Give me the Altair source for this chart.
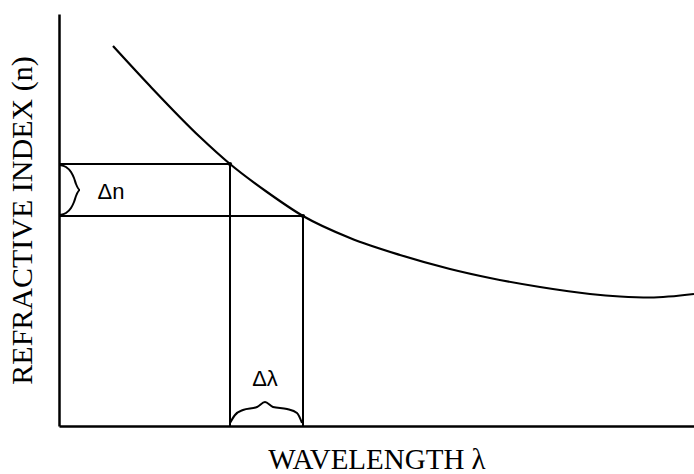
import altair as alt
import pandas as pd

# Dispersion curve n(λ), arbitrary units
curve_lambda = [54, 91, 141, 171, 208, 244, 291, 341, 391, 431, 481, 531, 561, 591, 635]
curve_n = [380, 340, 289, 262, 234, 210, 188, 171, 157, 148, 139, 132, 129.5, 128.5, 132]

# The two sampled wavelengths and their indices on the curve
mark_lambda = [171, 244]
mark_n = [262, 210]

# Brace shapes for Δn (on the n axis) and Δλ (on the λ axis)
brace_n_x = [1, 7, 12, 15, 17, 21, 17, 15, 12, 7, 1]
brace_n_y = [261, 259, 254, 248, 242, 236, 230, 224, 218, 213, 211]
brace_l_x = [171, 176, 184, 198, 206, 214, 228, 238, 243]
brace_l_y = [3, 11, 16, 19, 24, 19, 17, 13, 3]

labels = ["Δn", "Δλ"]
label_x = [52, 206]
label_y = [234, 47]

X_DOMAIN = [0, 635]
Y_DOMAIN = [0, 412]

xs = alt.Scale(domain=X_DOMAIN, nice=False, zero=False)
ys = alt.Scale(domain=Y_DOMAIN, nice=False, zero=False)

curve_df = pd.DataFrame({"lam": curve_lambda, "n": curve_n})
marks_df = pd.DataFrame({"lam": mark_lambda, "n": mark_n, "zero": [0, 0]})
braces_df = pd.concat([
    pd.DataFrame({"lam": brace_n_x, "n": brace_n_y, "seq": range(len(brace_n_x)), "b": "n"}),
    pd.DataFrame({"lam": brace_l_x, "n": brace_l_y, "seq": range(len(brace_l_x)), "b": "l"}),
])
labels_df = pd.DataFrame({"t": labels, "lam": label_x, "n": label_y})

x_axis = alt.Axis(
    title="WAVELENGTH λ", ticks=False, labels=False, grid=False,
    domainColor="black", domainWidth=2.5,
    titleFont="Liberation Serif", titleFontSize=29, titleFontWeight="normal",
    titleColor="black", titlePadding=19,
)
y_axis = alt.Axis(
    title="REFRACTIVE INDEX (n)", ticks=False, labels=False, grid=False,
    domainColor="black", domainWidth=2.5,
    titleFont="Liberation Serif", titleFontSize=30, titleFontWeight="normal",
    titleColor="black", titlePadding=22,
)

curve = alt.Chart(curve_df).mark_line(
    color="black", strokeWidth=2.2, interpolate="monotone"
).encode(
    x=alt.X("lam:Q", scale=xs, axis=x_axis),
    y=alt.Y("n:Q", scale=ys, axis=y_axis),
)

hrules = alt.Chart(marks_df).mark_rule(color="black", strokeWidth=2).encode(
    x=alt.X("zero:Q", scale=xs),
    x2="lam:Q",
    y=alt.Y("n:Q", scale=ys),
)

vrules = alt.Chart(marks_df).mark_rule(color="black", strokeWidth=2).encode(
    x=alt.X("lam:Q", scale=xs),
    y=alt.Y("zero:Q", scale=ys),
    y2="n:Q",
)

dots = alt.Chart(marks_df).mark_point(
    color="black", filled=True, size=18, opacity=1
).encode(x=alt.X("lam:Q", scale=xs), y=alt.Y("n:Q", scale=ys))

braces = alt.Chart(braces_df).mark_line(
    color="black", strokeWidth=2, interpolate="monotone"
).encode(
    x=alt.X("lam:Q", scale=xs),
    y=alt.Y("n:Q", scale=ys),
    detail="b:N",
    order="seq:Q",
)

texts = alt.Chart(labels_df).mark_text(
    font="Liberation Sans", fontSize=22, color="black",
    align="center", baseline="middle",
).encode(
    x=alt.X("lam:Q", scale=xs),
    y=alt.Y("n:Q", scale=ys),
    text="t:N",
)

chart = alt.layer(curve, hrules, vrules, dots, braces, texts).properties(
    width=635,
    height=412,
    autosize=alt.AutoSizeParams(type="none"),
    padding={"left": 59, "top": 14, "right": 0, "bottom": 48},
    background="white",
).configure_view(stroke=None)

chart.save("out.html", embed_options={"renderer": "svg", "actions": False})
